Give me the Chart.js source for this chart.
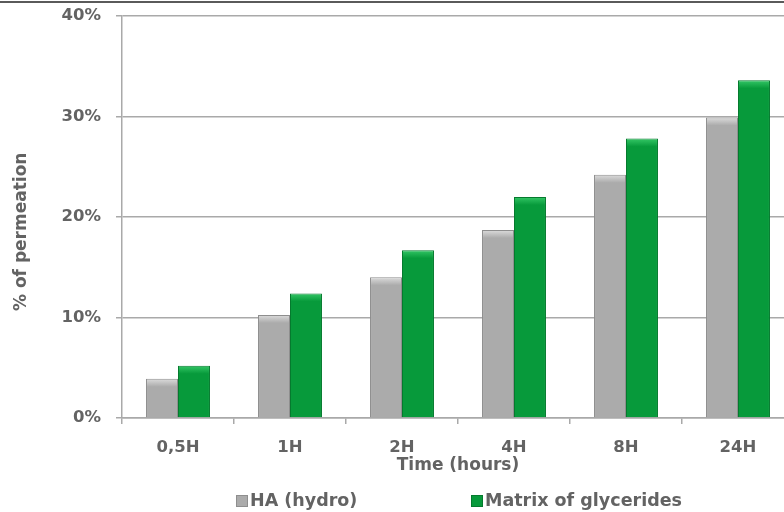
<!DOCTYPE html>
<html>
<head>
<meta charset="utf-8">
<script src="https://cdn.jsdelivr.net/npm/chart.js@4.4.1/dist/chart.umd.min.js"></script>
<style>
  html, body { margin: 0; padding: 0; background: #fff; overflow: hidden; }
  #wrap { position: relative; width: 800px; height: 512px; }
  #topline { position: absolute; left: 0; top: 1px; width: 800px; height: 0; border-top: 2px solid #5a5a5a; }
  #legend { position: absolute; top: 490px; left: 0; width: 800px; height: 22px; font: 700 17.5px "DejaVu Sans", sans-serif; color: #636363; }
  .item { position: absolute; top: 0; white-space: nowrap; line-height: 20px; }
  .box { display: inline-block; width: 12px; height: 12px; margin-right: 2px; vertical-align: -1px; box-sizing: border-box; }
</style>
</head>
<body>
<div id="wrap">
  <canvas id="c" width="800" height="512"></canvas>
  <div id="topline"></div>
  <div id="legend"></div>
</div>
<script>
const categories = ["0,5H", "1H", "2H", "4H", "8H", "24H"];
const seriesNames = ["HA (hydro)", "Matrix of glycerides"];
const haHydro = [3.9, 10.25, 14.0, 18.7, 24.2, 29.9];
const matrixGlycerides = [5.2, 12.4, 16.7, 22.0, 27.8, 33.6];
const yTicks = [0, 10, 20, 30, 40];

const fontFamily = '"DejaVu Sans", sans-serif';
const textColor = '#636363';
const gridColor = '#a9a9a9';
const grayFill = '#ababab';
const grayLight = '#dcdcdc';
const grayEdge = '#8e8e8e';
const greenFill = '#079a3b';
const greenLight = '#34c766';
const greenEdge = '#057a2e';

// top-bevel highlight, placed with the library's own y scale
function bevel(base, light) {
  return (c) => {
    const ys = c.chart.scales && c.chart.scales.y;
    if (c.type !== 'data' || !ys) return base;
    const top = ys.getPixelForValue(c.raw);
    if (!isFinite(top)) return base;
    const g = c.chart.ctx.createLinearGradient(0, top, 0, top + 8);
    g.addColorStop(0, light);
    g.addColorStop(1, base);
    return g;
  };
}

const ctx = document.getElementById('c').getContext('2d');
const chart = new Chart(ctx, {
  type: 'bar',
  data: {
    labels: categories,
    datasets: [
      { label: seriesNames[0], data: haHydro, backgroundColor: bevel(grayFill, grayLight), legendColor: grayFill, borderColor: grayEdge, borderWidth: 1, barPercentage: 1.0, categoryPercentage: 0.571 },
      { label: seriesNames[1], data: matrixGlycerides, backgroundColor: bevel(greenFill, greenLight), legendColor: greenFill, borderColor: greenEdge, borderWidth: 1, barPercentage: 1.0, categoryPercentage: 0.571 }
    ]
  },
  options: {
    responsive: false,
    animation: false,
    devicePixelRatio: 1,
    layout: { padding: { left: 0, right: 6, top: 16, bottom: 0 } },
    plugins: { legend: { display: false }, tooltip: { enabled: false } },
    scales: {
      x: {
        grid: { display: true, drawOnChartArea: false, drawTicks: true, tickLength: 6, color: gridColor, lineWidth: 1.5, offset: true },
        border: { display: true, color: gridColor, width: 1.5 },
        ticks: { color: textColor, font: { family: fontFamily, size: 16.5, weight: '700' }, padding: 14 },
        title: { display: true, text: 'Time (hours)', color: textColor, font: { family: fontFamily, size: 17, weight: '700' }, padding: { top: 0, bottom: 36 } },
        afterFit: (s) => { s.height = 94; }
      },
      y: {
        min: 0, max: 40,
        afterBuildTicks: (s) => { s.ticks = yTicks.map(v => ({ value: v })); },
        grid: { color: gridColor, lineWidth: 1.5, tickLength: 6 },
        border: { display: true, color: gridColor, width: 1.5 },
        ticks: { color: textColor, font: { family: fontFamily, size: 16.5, weight: '700' }, padding: 15, callback: (v) => v + '%' },
        title: { display: true, text: '% of permeation     ', color: textColor, font: { family: fontFamily, size: 17, weight: '700' }, padding: { top: 11, bottom: 0 } },
        afterFit: (s) => { s.width = 122; s.paddingTop = 0; s.paddingBottom = 0; }
      }
    }
  }
});

// HTML legend built from the dataset definitions
const legend = document.getElementById('legend');
const legendX = [236, 471];
chart.data.datasets.forEach((ds, i) => {
  const item = document.createElement('span');
  item.className = 'item';
  item.style.left = legendX[i] + 'px';
  const box = document.createElement('span');
  box.className = 'box';
  box.style.background = ds.legendColor;
  box.style.border = '1px solid ' + ds.borderColor;
  item.appendChild(box);
  item.appendChild(document.createTextNode(ds.label));
  legend.appendChild(item);
});
</script>
</body>
</html>
